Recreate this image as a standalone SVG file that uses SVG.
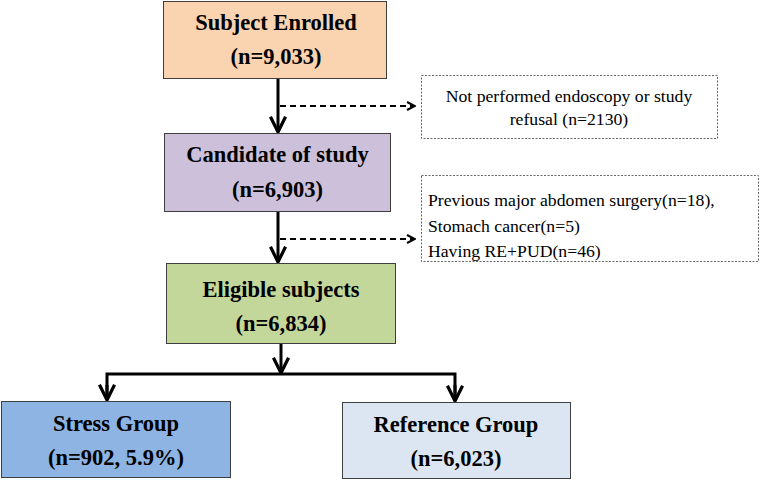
<svg xmlns="http://www.w3.org/2000/svg" width="761" height="480" viewBox="0 0 761 480">
<defs>
<style>
.box{stroke:#3f3f3f;stroke-width:1}
.t{font-family:"Liberation Serif","Times New Roman",serif;font-weight:bold;font-size:22.5px;text-anchor:middle;fill:#000}
.s{font-family:"Liberation Serif","Times New Roman",serif;font-size:17.7px;fill:#000}
.ex{fill:#fff;stroke:#666;stroke-width:1;stroke-dasharray:2 1.5}
.main{stroke:#000;stroke-width:3;fill:none}
.dash{stroke:#000;stroke-width:2;fill:none;stroke-dasharray:6 4}
</style>
<marker id="ah" viewBox="0 0 10 10" refX="9" refY="5" markerWidth="6" markerHeight="6" orient="auto" markerUnits="strokeWidth">
<path d="M0.5,0.8 L9,5 L0.5,9.2" fill="none" stroke="#000" stroke-width="1.8"/>
</marker>
<marker id="ad" viewBox="0 0 10 10" refX="9" refY="5" markerWidth="5" markerHeight="5" orient="auto" markerUnits="strokeWidth">
<path d="M1,1 L9,5 L1,9" fill="none" stroke="#000" stroke-width="2"/>
</marker>
</defs>
<rect width="761" height="480" fill="#fff"/>
<g id="connectors">
<path class="main" d="M278,79 V132" marker-end="url(#ah)"/>
<path class="main" d="M278,212 V262" marker-end="url(#ah)"/>
<path class="main" d="M281,344 V373" marker-end="url(#ah)"/>
<path class="main" d="M107,400 V374 H455 V400"/>
<path class="main" d="M107,385 V400" marker-end="url(#ah)"/>
<path class="main" d="M455,385 V401" marker-end="url(#ah)"/>
<path class="dash" d="M280,106 H415" marker-end="url(#ad)"/>
<path class="dash" d="M280,239 H415" marker-end="url(#ad)"/>
</g>
<g id="n1">
<rect class="box" x="163.5" y="1.5" width="223" height="77" fill="#FAD3B0"/>
<text class="t" x="276" y="30">Subject Enrolled</text>
<text class="t" x="276" y="64">(n=9,033)</text>
</g>
<g id="n2">
<rect class="box" x="164.5" y="133.5" width="226" height="78" fill="#CCC0DA"/>
<text class="t" x="277.5" y="162">Candidate of study</text>
<text class="t" x="277.5" y="197">(n=6,903)</text>
</g>
<g id="n3">
<rect class="box" x="166.5" y="263.5" width="229" height="80" fill="#C4D79B"/>
<text class="t" x="281" y="297">Eligible subjects</text>
<text class="t" x="281" y="331">(n=6,834)</text>
</g>
<g id="n4">
<rect class="box" x="1.5" y="401.5" width="229" height="76" fill="#8EB4E3"/>
<text class="t" x="116" y="431">Stress Group</text>
<text class="t" x="116" y="465">(n=902, 5.9%)</text>
</g>
<g id="n5">
<rect class="box" x="342.5" y="402.5" width="228" height="76" fill="#DCE6F2"/>
<text class="t" x="456" y="432">Reference Group</text>
<text class="t" x="456" y="466">(n=6,023)</text>
</g>
<g id="e1">
<rect class="ex" x="421.5" y="75.5" width="296" height="63"/>
<text class="s" x="569" y="102" text-anchor="middle">Not performed endoscopy or study</text>
<text class="s" x="569" y="125" text-anchor="middle">refusal (n=2130)</text>
</g>
<g id="e2">
<rect class="ex" x="421.5" y="175.5" width="337" height="86"/>
<text class="s" x="428" y="206">Previous major abdomen surgery(n=18),</text>
<text class="s" x="428" y="232">Stomach cancer(n=5)</text>
<text class="s" x="428" y="257">Having RE+PUD(n=46)</text>
</g>
</svg>
